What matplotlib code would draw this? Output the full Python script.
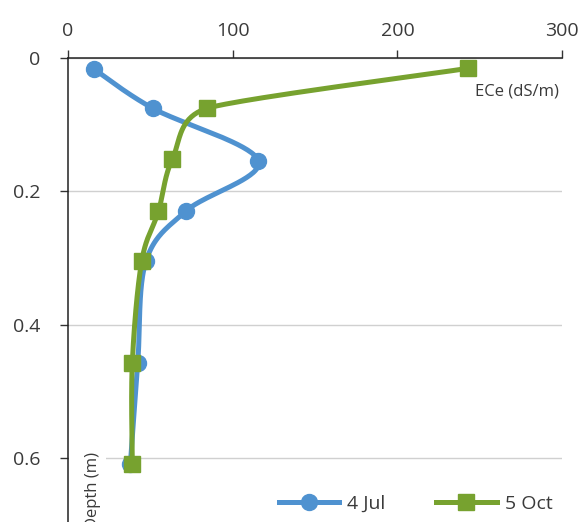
import numpy as np
import matplotlib
matplotlib.use("Agg")
import matplotlib.pyplot as plt
from matplotlib.lines import Line2D
from matplotlib.patches import Rectangle

plt.rcParams['font.family'] = ['Open Sans', 'DejaVu Sans']

# Soil salinity profiles: ECe (dS/m) against depth (m)
depth_jul = [0.0165, 0.075, 0.154, 0.229, 0.3045, 0.457, 0.61]
ece_jul = [16.1, 51.5, 115.7, 71.9, 47.5, 42.5, 38.0]

depth_oct = [0.0150, 0.075, 0.152, 0.230, 0.3045, 0.457, 0.61]
ece_oct = [243.1, 84.7, 63.4, 55.0, 44.9, 39.2, 39.2]

x_ticks = [0, 100, 200, 300]
y_ticks = [0, 0.2, 0.4, 0.6]
y_tick_labels = ["0", "0.2", "0.4", "0.6"]

BLUE = '#4F92D0'
GREEN = '#77A22F'
TEXT = '#3A3A3A'

W, H, DPI = 581, 522, 100
fig = plt.figure(figsize=(W / DPI, H / DPI), dpi=DPI)
ax = fig.add_axes([67.7 / W, 0.0, (562.3 - 67.7) / W, (522 - 58.3) / H])
ax.set_xlim(0, 300)
ax.set_ylim(0.6965, 0)


def smooth(xs, ys, n=40):
    """Bezier smoothing through the points in display space, with the
    control-handle length clamped to half of the neighbouring segments."""
    pts = ax.transData.transform(np.column_stack([xs, ys]))
    m = len(pts)

    def handle(i):
        p_prev = pts[max(i - 1, 0)]
        p_next = pts[min(i + 1, m - 1)]
        d = p_next - p_prev
        norm = np.hypot(*d)
        if norm == 0:
            return np.zeros(2)
        lengths = [norm / 6.0]
        if i > 0:
            lengths.append(np.hypot(*(pts[i] - pts[i - 1])) / 2.0)
        if i < m - 1:
            lengths.append(np.hypot(*(pts[i + 1] - pts[i])) / 2.0)
        return d / norm * min(lengths)

    out = [pts[0]]
    t = np.linspace(0, 1, n)[1:, None]
    for i in range(m - 1):
        p1, p2 = pts[i], pts[i + 1]
        c1 = p1 + handle(i)
        c2 = p2 - handle(i + 1)
        seg = ((1 - t) ** 3) * p1 + 3 * ((1 - t) ** 2) * t * c1 \
            + 3 * (1 - t) * t ** 2 * c2 + t ** 3 * p2
        out.extend(seg)
    data = ax.transData.inverted().transform(np.array(out))
    return data[:, 0], data[:, 1]


lw = 3.6
sx, sy = smooth(ece_jul, depth_jul)
ax.plot(sx, sy, color=BLUE, lw=lw, solid_capstyle='round', zorder=3)
ax.plot(ece_jul, depth_jul, ls='none', marker='o', ms=11.5,
        mfc=BLUE, mec=BLUE, zorder=4)

sx, sy = smooth(ece_oct, depth_oct)
ax.plot(sx, sy, color=GREEN, lw=lw, solid_capstyle='round', zorder=5)
ax.plot(ece_oct, depth_oct, ls='none', marker='s', ms=12,
        mfc=GREEN, mec=GREEN, zorder=6)

# Axes styling: value axis on top, depth increasing downward
ax.xaxis.tick_top()
ax.set_xticks(x_ticks)
ax.set_yticks(y_ticks)
ax.set_yticklabels(y_tick_labels)
ax.tick_params(axis='x', direction='out', length=5.5, width=1, color='#333333',
               labelsize=14, pad=8.0, labelcolor=TEXT)
ax.tick_params(axis='y', direction='out', length=5.5, width=1, color='#333333',
               labelsize=14, pad=14.0, labelcolor=TEXT)
for s in ['right', 'bottom']:
    ax.spines[s].set_visible(False)
for s in ['left', 'top']:
    ax.spines[s].set_color('#222222')
    ax.spines[s].set_linewidth(1.1)
ax.grid(axis='y', color='#D0D0D0', lw=1.0, zorder=0)
ax.set_axisbelow(True)

# Axis titles
fig.text(475 / W, 1 - 92 / H, 'ECe (dS/m)', fontsize=12, color=TEXT,
         ha='left', va='center')
fig.patches.append(Rectangle((68.5 / W, 0), (106 - 68.5) / W, (522 - 446) / H,
                             transform=fig.transFigure, facecolor='white',
                             edgecolor='none', zorder=1))
fig.text(93 / W, 1 - 452 / H, 'Depth (m)', fontsize=12, color=TEXT,
         rotation=90, ha='center', va='top', zorder=2)

# Legend
handles = [
    Line2D([], [], color=BLUE, lw=lw, marker='o', ms=11.5, mfc=BLUE, mec=BLUE),
    Line2D([], [], color=GREEN, lw=lw, marker='s', ms=12, mfc=GREEN, mec=GREEN),
]
fig.legend(handles, ['4 Jul', '5 Oct'], ncol=2, frameon=False, fontsize=14,
           loc='center left', bbox_to_anchor=(279 / W, 1 - 504 / H),
           borderpad=0, borderaxespad=0, handlelength=3.1, handletextpad=0.42,
           columnspacing=2.6, labelcolor=TEXT)

fig.savefig('out.png', dpi=DPI)
